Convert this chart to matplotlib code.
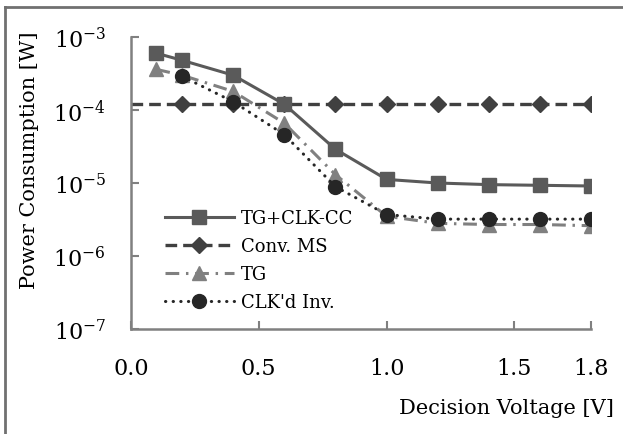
import numpy as np
import matplotlib
matplotlib.use('Agg')
import matplotlib.pyplot as plt
from matplotlib.lines import Line2D

plt.rcParams['font.family'] = 'DejaVu Serif'
plt.rcParams['mathtext.fontset'] = 'dejavuserif'

# data
v_cc = [0.1, 0.2, 0.4, 0.6, 0.8, 1.0, 1.2, 1.4, 1.6, 1.8]
p_cc = [6.0e-4, 4.8e-4, 3.0e-4, 1.2e-4, 2.9e-5, 1.12e-5, 1.0e-5, 9.5e-6, 9.3e-6, 9.1e-6]

v_ms = [0.0, 0.2, 0.4, 0.6, 0.8, 1.0, 1.2, 1.4, 1.6, 1.8]
p_ms = [1.2e-4, 1.2e-4, 1.2e-4, 1.2e-4, 1.2e-4, 1.2e-4, 1.2e-4, 1.2e-4, 1.2e-4, 1.2e-4]

v_tg = [0.1, 0.2, 0.4, 0.6, 0.8, 1.0, 1.2, 1.4, 1.6, 1.8]
p_tg = [3.6e-4, 3.0e-4, 1.8e-4, 6.6e-5, 1.3e-5, 3.5e-6, 2.8e-6, 2.7e-6, 2.7e-6, 2.6e-6]

v_inv = [0.2, 0.4, 0.6, 0.8, 1.0, 1.2, 1.4, 1.6, 1.8]
p_inv = [2.9e-4, 1.3e-4, 4.6e-5, 8.9e-6, 3.7e-6, 3.2e-6, 3.2e-6, 3.2e-6, 3.2e-6]

x_ticks = [0.0, 0.5, 1.0, 1.5, 1.8]
x_ticklabels = ['0.0', '0.5', '1.0', '1.5', '1.8']
y_ticks = [1e-7, 1e-6, 1e-5, 1e-4, 1e-3]

fig = plt.figure(figsize=(6.23, 4.35), dpi=100)
ax = fig.add_axes([0.210, 0.2414, 0.739, 0.6712])

ax.semilogy(v_cc, p_cc, color='#5a5a5a', linewidth=2.2, marker='s', markersize=10,
            label='TG+CLK-CC', zorder=3)
ax.semilogy(v_ms, p_ms, color='#404040', linewidth=2.4, linestyle=(0, (3.5, 1.8)),
            marker='D', markersize=8, markevery=list(range(1, len(v_ms))),
            label='Conv. MS', zorder=2)
ax.semilogy(v_tg, p_tg, color='#808080', linewidth=2.2, linestyle=(0, (4.5, 2.2, 0.8, 2.2)),
            marker='^', markersize=10, label='TG', zorder=4)
ax.semilogy(v_inv, p_inv, color='#262626', linewidth=2.2, linestyle=(0, (0.1, 2.4)),
            dash_capstyle='round', marker='o', markersize=10, label="CLK'd Inv.", zorder=5)

ax.set_xlim(0, 1.8)
ax.set_ylim(1e-7, 1e-3)
ax.set_xticks(x_ticks)
ax.set_xticklabels(x_ticklabels)
ax.set_yticks(y_ticks)
ax.minorticks_off()
ax.tick_params(axis='both', direction='in', length=6, width=1.5, color='#808080',
               labelsize=16)
ax.tick_params(axis='x', pad=20)
ax.tick_params(axis='y', pad=18)

for s in ['top', 'right']:
    ax.spines[s].set_visible(False)
for s in ['left', 'bottom']:
    ax.spines[s].set_color('#808080')
    ax.spines[s].set_linewidth(1.8)

ax.set_ylabel('Power Consumption [W]', fontsize=15)
ax.yaxis.set_label_coords(-0.2, 0.58)
ax.set_xlabel('Decision Voltage [V]', fontsize=15)
ax.xaxis.set_label_coords(1.05, -0.235)
ax.xaxis.label.set_horizontalalignment('right')

ax.legend(loc='lower left', bbox_to_anchor=(0.055, 0.03), frameon=False, fontsize=13,
          handlelength=3.8, labelspacing=0.55, handletextpad=0.4, borderpad=0)

# outer chart border (left and top visible in the reference)
fig.add_artist(Line2D([0.008, 0.008], [0.0, 0.982], transform=fig.transFigure,
                      color='#707070', linewidth=2))
fig.add_artist(Line2D([0.008, 1.0], [0.982, 0.982], transform=fig.transFigure,
                      color='#707070', linewidth=2))

fig.savefig('out.png', dpi=100)
